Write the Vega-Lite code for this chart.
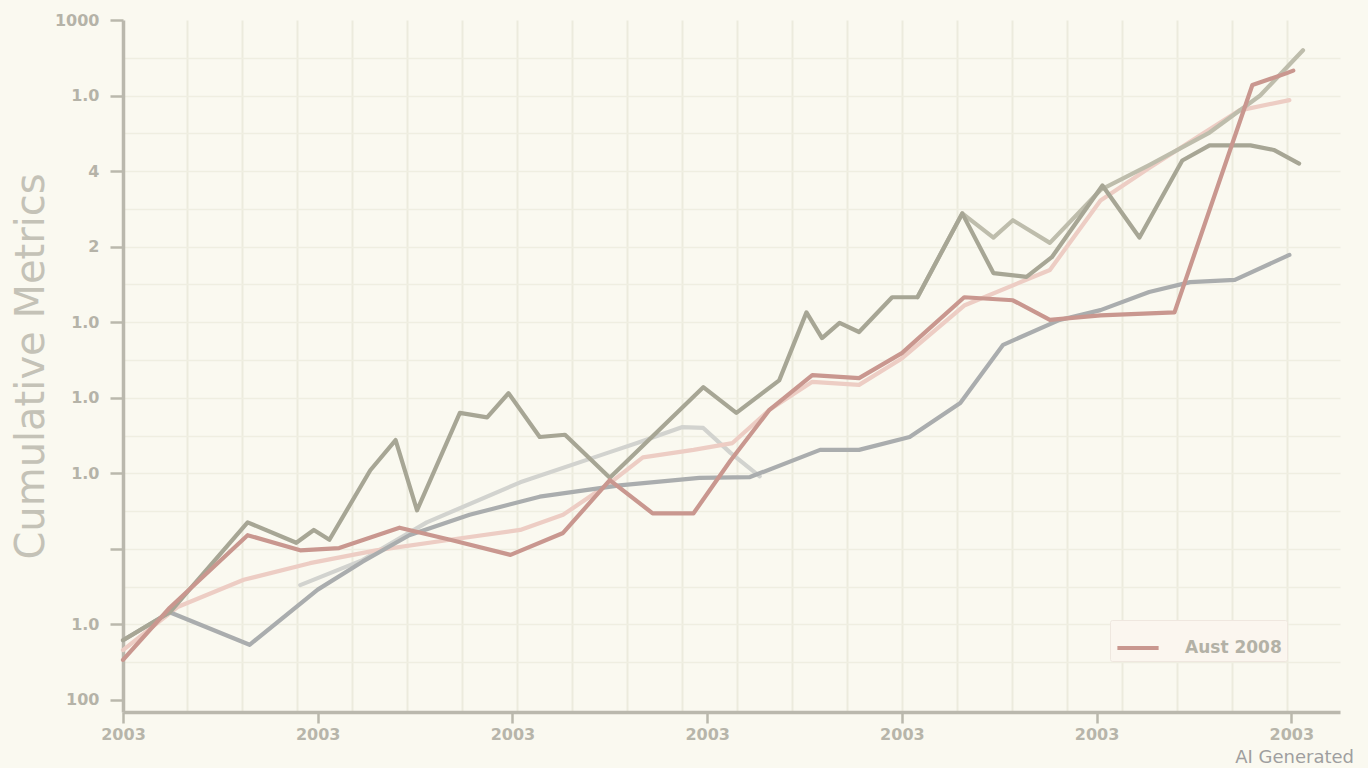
{
  "$schema": "https://vega.github.io/schema/vega-lite/v6.json",
  "width": 1217,
  "height": 692,
  "autosize": {"type": "none"},
  "padding": {"left": 123, "top": 20, "right": 28, "bottom": 56},
  "background": "#faf9f0",
  "config": {"view": {"stroke": null}},
  "title": {"text": "AI Generated", "orient": "bottom", "anchor": "end", "fontSize": 18, "font": "DejaVu Sans", "fontWeight": "normal", "color": "#9f9f9f", "dx": 14, "dy": 7, "offset": 0},
  "data": {"values": [
    {"s": "Series F", "x": 0.91, "y": 1.52}, {"s": "Series F", "x": 1.23, "y": 1.85}, {"s": "Series F", "x": 1.56, "y": 2.35}, {"s": "Series F", "x": 2.04, "y": 2.88}, {"s": "Series F", "x": 2.50, "y": 3.28}, {"s": "Series F", "x": 2.64, "y": 3.40}, {"s": "Series F", "x": 2.87, "y": 3.61}, {"s": "Series F", "x": 2.98, "y": 3.60}, {"s": "Series F", "x": 3.12, "y": 3.27}, {"s": "Series F", "x": 3.27, "y": 2.96},
    {"s": "Series E", "x": 0.00, "y": 0.66}, {"s": "Series E", "x": 0.28, "y": 1.23}, {"s": "Series E", "x": 0.62, "y": 1.59}, {"s": "Series E", "x": 0.96, "y": 1.81}, {"s": "Series E", "x": 1.30, "y": 1.98}, {"s": "Series E", "x": 1.68, "y": 2.12}, {"s": "Series E", "x": 2.04, "y": 2.25}, {"s": "Series E", "x": 2.26, "y": 2.45}, {"s": "Series E", "x": 2.50, "y": 2.87}, {"s": "Series E", "x": 2.67, "y": 3.21}, {"s": "Series E", "x": 2.93, "y": 3.31}, {"s": "Series E", "x": 3.13, "y": 3.40}, {"s": "Series E", "x": 3.32, "y": 3.84}, {"s": "Series E", "x": 3.54, "y": 4.21}, {"s": "Series E", "x": 3.78, "y": 4.17}, {"s": "Series E", "x": 4.00, "y": 4.52}, {"s": "Series E", "x": 4.32, "y": 5.22}, {"s": "Series E", "x": 4.76, "y": 5.69}, {"s": "Series E", "x": 5.02, "y": 6.61}, {"s": "Series E", "x": 5.27, "y": 7.04}, {"s": "Series E", "x": 5.53, "y": 7.47}, {"s": "Series E", "x": 5.73, "y": 7.80}, {"s": "Series E", "x": 5.99, "y": 7.94},
    {"s": "Series C", "x": 0.00, "y": 0.79}, {"s": "Series C", "x": 0.24, "y": 1.16}, {"s": "Series C", "x": 0.65, "y": 0.73}, {"s": "Series C", "x": 1.00, "y": 1.46}, {"s": "Series C", "x": 1.23, "y": 1.83}, {"s": "Series C", "x": 1.47, "y": 2.18}, {"s": "Series C", "x": 1.78, "y": 2.45}, {"s": "Series C", "x": 2.14, "y": 2.69}, {"s": "Series C", "x": 2.55, "y": 2.84}, {"s": "Series C", "x": 2.96, "y": 2.94}, {"s": "Series C", "x": 3.22, "y": 2.95}, {"s": "Series C", "x": 3.58, "y": 3.31}, {"s": "Series C", "x": 3.78, "y": 3.31}, {"s": "Series C", "x": 4.04, "y": 3.48}, {"s": "Series C", "x": 4.30, "y": 3.93}, {"s": "Series C", "x": 4.52, "y": 4.70}, {"s": "Series C", "x": 4.81, "y": 5.03}, {"s": "Series C", "x": 5.02, "y": 5.16}, {"s": "Series C", "x": 5.27, "y": 5.40}, {"s": "Series C", "x": 5.48, "y": 5.53}, {"s": "Series C", "x": 5.71, "y": 5.56}, {"s": "Series C", "x": 5.99, "y": 5.89},
    {"s": "Series B", "x": 4.08, "y": 5.33}, {"s": "Series B", "x": 4.31, "y": 6.44}, {"s": "Series B", "x": 4.47, "y": 6.12}, {"s": "Series B", "x": 4.57, "y": 6.35}, {"s": "Series B", "x": 4.76, "y": 6.05}, {"s": "Series B", "x": 5.02, "y": 6.75}, {"s": "Series B", "x": 5.27, "y": 7.08}, {"s": "Series B", "x": 5.58, "y": 7.51}, {"s": "Series B", "x": 5.84, "y": 8.00}, {"s": "Series B", "x": 6.06, "y": 8.60},
    {"s": "Series A", "x": 0.00, "y": 0.79}, {"s": "Series A", "x": 0.24, "y": 1.16}, {"s": "Series A", "x": 0.64, "y": 2.35}, {"s": "Series A", "x": 0.89, "y": 2.08}, {"s": "Series A", "x": 0.98, "y": 2.25}, {"s": "Series A", "x": 1.06, "y": 2.12}, {"s": "Series A", "x": 1.27, "y": 3.04}, {"s": "Series A", "x": 1.40, "y": 3.44}, {"s": "Series A", "x": 1.51, "y": 2.51}, {"s": "Series A", "x": 1.73, "y": 3.80}, {"s": "Series A", "x": 1.87, "y": 3.74}, {"s": "Series A", "x": 1.98, "y": 4.06}, {"s": "Series A", "x": 2.14, "y": 3.48}, {"s": "Series A", "x": 2.27, "y": 3.51}, {"s": "Series A", "x": 2.50, "y": 2.94}, {"s": "Series A", "x": 2.98, "y": 4.14}, {"s": "Series A", "x": 3.15, "y": 3.80}, {"s": "Series A", "x": 3.37, "y": 4.23}, {"s": "Series A", "x": 3.51, "y": 5.13}, {"s": "Series A", "x": 3.59, "y": 4.79}, {"s": "Series A", "x": 3.68, "y": 4.99}, {"s": "Series A", "x": 3.78, "y": 4.87}, {"s": "Series A", "x": 3.95, "y": 5.33}, {"s": "Series A", "x": 4.08, "y": 5.33}, {"s": "Series A", "x": 4.31, "y": 6.44}, {"s": "Series A", "x": 4.47, "y": 5.65}, {"s": "Series A", "x": 4.64, "y": 5.60}, {"s": "Series A", "x": 4.77, "y": 5.86}, {"s": "Series A", "x": 5.03, "y": 6.81}, {"s": "Series A", "x": 5.22, "y": 6.12}, {"s": "Series A", "x": 5.44, "y": 7.14}, {"s": "Series A", "x": 5.58, "y": 7.34}, {"s": "Series A", "x": 5.79, "y": 7.34}, {"s": "Series A", "x": 5.91, "y": 7.28}, {"s": "Series A", "x": 6.04, "y": 7.10},
    {"s": "Aust 2008", "x": 0.00, "y": 0.53}, {"s": "Aust 2008", "x": 0.24, "y": 1.22}, {"s": "Aust 2008", "x": 0.64, "y": 2.18}, {"s": "Aust 2008", "x": 0.91, "y": 1.98}, {"s": "Aust 2008", "x": 1.11, "y": 2.01}, {"s": "Aust 2008", "x": 1.42, "y": 2.28}, {"s": "Aust 2008", "x": 1.68, "y": 2.12}, {"s": "Aust 2008", "x": 1.99, "y": 1.92}, {"s": "Aust 2008", "x": 2.26, "y": 2.21}, {"s": "Aust 2008", "x": 2.50, "y": 2.91}, {"s": "Aust 2008", "x": 2.72, "y": 2.47}, {"s": "Aust 2008", "x": 2.93, "y": 2.47}, {"s": "Aust 2008", "x": 3.12, "y": 3.17}, {"s": "Aust 2008", "x": 3.32, "y": 3.84}, {"s": "Aust 2008", "x": 3.54, "y": 4.30}, {"s": "Aust 2008", "x": 3.78, "y": 4.26}, {"s": "Aust 2008", "x": 4.00, "y": 4.59}, {"s": "Aust 2008", "x": 4.32, "y": 5.33}, {"s": "Aust 2008", "x": 4.57, "y": 5.29}, {"s": "Aust 2008", "x": 4.76, "y": 5.03}, {"s": "Aust 2008", "x": 5.02, "y": 5.09}, {"s": "Aust 2008", "x": 5.40, "y": 5.13}, {"s": "Aust 2008", "x": 5.80, "y": 8.14}, {"s": "Aust 2008", "x": 5.97, "y": 8.29}, {"s": "Aust 2008", "x": 6.01, "y": 8.33}
  ]},
  "layer": [
    {
      "mark": {"type": "line", "opacity": 0},
      "encoding": {
        "x": {"field": "x", "type": "quantitative", "scale": {"domain": [0, 6.25], "nice": false, "zero": false},
              "axis": {"orient": "bottom", "grid": true, "gridColor": "#ecebdd", "gridWidth": 2, "values": [0.3285, 0.6109, 0.8932, 1.1756, 1.4579, 1.7402, 2.0226, 2.3049, 2.5873, 2.8696, 3.152, 3.4343, 3.7166, 3.999, 4.2813, 4.5637, 4.846, 5.1283, 5.4107, 5.693, 5.9754], "labels": false, "ticks": false, "domain": false, "title": null}},
        "y": {"field": "y", "type": "quantitative", "scale": {"domain": [-0.16, 9.0], "nice": false, "zero": false},
              "axis": {"orient": "left", "grid": true, "gridColor": "#efeee1", "gridWidth": 1.5, "values": [0.5, 1, 1.5, 2, 2.5, 3, 3.5, 4, 4.5, 5, 5.5, 6, 6.5, 7, 7.5, 8, 8.5], "labels": false, "ticks": false, "domain": false, "title": null}},
        "detail": {"field": "s", "type": "nominal"}
      }
    },
    {
      "mark": {"type": "line", "strokeWidth": 4.2, "strokeJoin": "round", "strokeCap": "round"},
      "encoding": {
        "x": {"field": "x", "type": "quantitative",
              "axis": {"orient": "bottom", "grid": false, "values": [0, 1, 2, 3, 4, 5, 6], "labelExpr": "'2003'", "tickSize": 11, "tickWidth": 2.5, "tickColor": "#bab8ad", "domainColor": "#bab8ad", "domainWidth": 3.5, "labelFont": "DejaVu Sans", "labelFontSize": 16, "labelFontWeight": "bold", "labelColor": "#b7b5aa", "labelPadding": 3, "labelFlush": false, "labelOverlap": false, "title": null}},
        "y": {"field": "y", "type": "quantitative",
              "axis": {"orient": "left", "grid": false, "values": [0, 1, 2, 3, 4, 5, 6, 7, 8, 9], "labelExpr": "['100','1.0','','1.0','1.0','1.0','2','4','1.0','1000'][datum.value]", "tickSize": 13, "tickWidth": 2.5, "tickColor": "#bab8ad", "domainColor": "#bab8ad", "domainWidth": 3.5, "labelFont": "DejaVu Sans", "labelFontSize": 16, "labelFontWeight": "bold", "labelColor": "#b5b3a8", "labelPadding": 11, "labelFlush": false, "labelOverlap": false,
                       "title": "Cumulative Metrics", "titleFont": "DejaVu Sans", "titleFontSize": 40, "titleFontWeight": "normal", "titleColor": "#c4c2b7", "titlePadding": 3}},
        "color": {"field": "s", "type": "nominal",
                  "scale": {"domain": ["Series F", "Series E", "Series C", "Series B", "Series A", "Aust 2008"], "range": ["#d2d3cf", "#edcdc4", "#aaadae", "#bebdac", "#a7a695", "#c9978f"]},
                  "legend": {"values": ["Aust 2008"], "orient": "none", "legendX": 987, "legendY": 600, "title": null, "symbolType": "stroke", "symbolStrokeWidth": 4, "symbolSize": 1700, "labelFont": "DejaVu Sans", "labelFontSize": 17, "labelFontWeight": "bold", "labelColor": "#b3b1a6", "labelOffset": 24, "fillColor": "#fbf6ef", "strokeColor": "#efe7df", "padding": 5, "cornerRadius": 2}}
      }
    }
  ],
  "resolve": {"axis": {"x": "independent", "y": "independent"}}
}
